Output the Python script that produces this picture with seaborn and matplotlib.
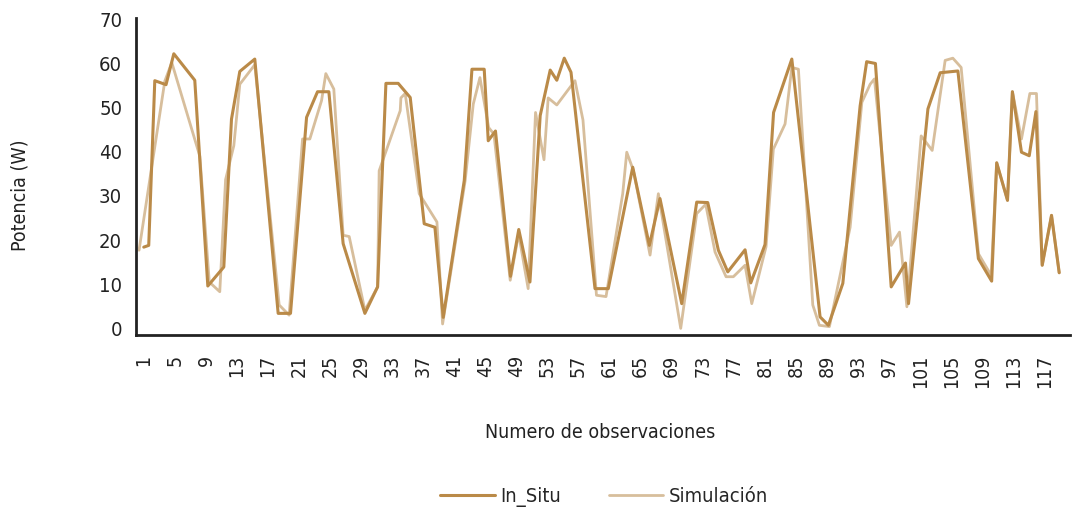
import matplotlib
matplotlib.use("Agg")
import matplotlib.pyplot as plt
import seaborn as sns
import pandas as pd

# ---- data ----
insitu_x = [1.0, 1.64, 2.42, 3.87, 4.87, 7.57, 9.25, 11.31, 12.30, 13.37,
            15.30, 18.31, 19.90, 21.97, 23.38, 24.84, 26.68, 29.48, 31.12, 32.19,
            33.77, 35.32, 37.12, 38.50, 39.57, 42.28, 43.27, 44.85, 45.37, 46.30,
            48.23, 49.30, 50.74, 52.06, 53.35, 54.20, 55.16, 56.03, 59.12, 60.83,
            63.98, 66.12, 67.49, 70.29, 72.22, 73.64, 75.01, 76.22, 78.45, 79.18,
            81.02, 82.12, 84.47, 88.11, 89.18, 91.04, 93.27, 94.11, 95.24, 97.27,
            99.11, 99.50, 102.00, 103.58, 105.86, 108.50, 110.21, 110.86, 112.25, 112.88,
            114.05, 115.05, 115.91, 116.72, 117.92, 118.91]
insitu_y = [18.4, 18.8, 56.1, 55.2, 62.2, 56.2, 9.6, 13.9, 47.4, 58.2,
            61.0, 3.4, 3.4, 47.8, 53.6, 53.6, 19.2, 3.4, 9.4, 55.5,
            55.5, 52.3, 23.7, 22.9, 2.5, 33.5, 58.7, 58.7, 42.5, 44.7,
            11.8, 22.4, 10.5, 48.2, 58.5, 56.2, 61.2, 58.0, 9.0, 9.0,
            36.5, 18.8, 29.4, 5.6, 28.6, 28.5, 17.7, 12.8, 17.8, 10.3,
            19.0, 48.9, 61.0, 2.6, 0.7, 10.2, 50.4, 60.4, 60.0, 9.4,
            14.8, 5.6, 49.7, 57.9, 58.3, 15.8, 10.7, 37.5, 29.0, 53.6,
            39.9, 39.1, 49.1, 14.3, 25.6, 12.6]

sim_x = [0.39, 3.71, 4.61, 8.22, 9.44, 10.79, 11.54, 12.60, 13.37, 15.30,
         18.44, 19.72, 21.45, 22.39, 23.90, 24.45, 25.48, 26.68, 27.46, 29.48,
         31.12, 31.32, 34.03, 34.12, 34.67, 36.48, 38.76, 39.49, 42.40, 43.44, 44.30,
         45.42, 46.10, 48.20, 49.29, 50.51, 51.46, 52.55, 53.09, 54.20, 56.54,
         57.57, 59.31, 60.54, 62.69, 63.21, 64.06, 66.21, 67.28, 70.16, 72.22,
         73.38, 74.58, 76.00, 76.94, 78.45, 79.31, 81.15, 82.09, 83.60, 84.47,
         85.32, 87.17, 88.02, 89.31, 91.98, 93.49, 94.56, 95.11, 97.27, 98.34,
         99.29, 101.13, 102.55, 104.22, 105.21, 106.28, 108.51, 110.15, 110.86, 112.25,
         112.88, 114.05, 115.13, 115.98, 116.72, 117.92, 118.91]
sim_y = [17.7, 56.0, 60.2, 39.0, 10.5, 8.3, 33.7, 41.4, 55.3, 59.7,
         5.3, 3.0, 42.9, 42.9, 51.6, 57.7, 54.2, 21.1, 20.8, 4.1,
         9.4, 35.7, 49.3, 52.2, 53.2, 30.5, 24.1, 1.0, 33.5, 50.8, 56.8,
         45.5, 44.0, 10.9, 21.4, 9.0, 48.9, 38.2, 52.2, 50.6, 56.1,
         47.2, 7.5, 7.2, 30.5, 39.9, 35.8, 16.6, 30.5, 0.0, 26.0,
         28.1, 17.3, 11.7, 11.7, 14.3, 5.6, 18.5, 40.6, 46.3, 59.1,
         58.7, 5.3, 0.7, 0.4, 22.9, 51.2, 55.3, 56.5, 18.8, 21.8,
         4.9, 43.6, 40.3, 60.7, 61.2, 59.1, 16.9, 12.0, 37.5, 29.0,
         53.6, 42.9, 53.2, 53.2, 14.3, 25.6, 12.6]

x_ticks = list(range(1, 118, 4))
x_ticklabels = [str(t) for t in x_ticks]
y_ticks = [0, 10, 20, 30, 40, 50, 60, 70]

series_names = ["In_Situ", "Simulación"]
colors = {"In_Situ": "#BA8A48", "Simulación": "#D7BE9C"}

sns.set_theme(style="white")
plt.rcParams["font.family"] = ["DejaVu Sans"]
plt.rcParams["font.stretch"] = "condensed"

fig = plt.figure(figsize=(10.72, 5.12), dpi=100)
ax = fig.add_axes([136 / 1072, 1 - 335 / 512, 934 / 1072, 317 / 512])

df_sim = pd.DataFrame({"x": sim_x, "y": sim_y})
df_in = pd.DataFrame({"x": insitu_x, "y": insitu_y})
sns.lineplot(data=df_sim, x="x", y="y", ax=ax, color=colors["Simulación"],
             linewidth=2.0, estimator=None, sort=False, label=series_names[1])
sns.lineplot(data=df_in, x="x", y="y", ax=ax, color=colors["In_Situ"],
             linewidth=2.2, estimator=None, sort=False, label=series_names[0])

ax.set_xlim(0, 120.3)
ax.set_ylim(-1.5, 70.3)
ax.set_xticks(x_ticks)
ax.set_xticklabels(x_ticklabels, rotation=90, fontsize=14, color="#222222")
ax.set_yticks(y_ticks)
ax.set_yticklabels([str(v) for v in y_ticks], fontsize=14.5, color="#222222")
ax.tick_params(axis="both", direction="out", length=6, width=2, color="#222222", pad=4)
ax.tick_params(axis="x", pad=8)

for s in ["top", "right"]:
    ax.spines[s].set_visible(False)
for s in ["left", "bottom"]:
    ax.spines[s].set_color("#222222")
    ax.spines[s].set_linewidth(2)

ax.set_xlabel("Numero de observaciones", fontsize=14, color="#222222")
ax.xaxis.set_label_coords((600 - 136) / 934, (335 - 433) / 317)
ax.xaxis.label.set_va("center")
ax.set_ylabel("Potencia (W)", fontsize=14, color="#222222")
ax.yaxis.set_label_coords((20 - 136) / 934, (335 - 195) / 317)
ax.yaxis.label.set_va("center")

handles, labels = ax.get_legend_handles_labels()
order = [labels.index(n) for n in series_names]
ax.legend([handles[i] for i in order], [labels[i] for i in order],
          loc="center", bbox_to_anchor=(604 / 1072, 1 - 497 / 512),
          bbox_transform=fig.transFigure, ncol=2, frameon=False, fontsize=14.5,
          handlelength=2.7, handletextpad=0.25, columnspacing=2.4,
          borderaxespad=0, borderpad=0)

fig.savefig("out.png", dpi=100)
